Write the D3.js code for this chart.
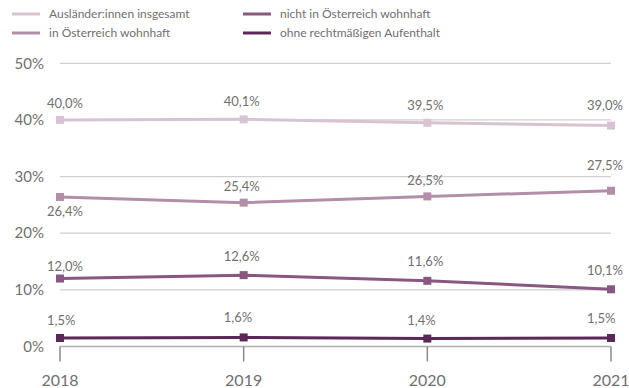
<!DOCTYPE html>
<html><head><meta charset="utf-8">
<script src="https://cdn.jsdelivr.net/npm/d3@7"></script>
<style>
html,body{margin:0;padding:0;background:#fff;}
text{font-family:Lato,"Open Sans",sans-serif;}
</style></head>
<body>
<svg id="c" width="629" height="388"></svg>
<script>
const years = ["2018","2019","2020","2021"];
const seriesNames = ["Ausländer:innen insgesamt","in Österreich wohnhaft","nicht in Österreich wohnhaft","ohne rechtmäßigen Aufenthalt"];
const insgesamt = [40.0, 40.1, 39.5, 39.0];
const wohnhaft = [26.4, 25.4, 26.5, 27.5];
const nichtWohnhaft = [12.0, 12.6, 11.6, 10.1];
const ohneAufenthalt = [1.5, 1.6, 1.4, 1.5];
const yTicks = [0, 10, 20, 30, 40, 50];

const colors = ["#d8c3d3", "#b28ea9", "#8a5783", "#5a2757"];
const allSeries = [insgesamt, wohnhaft, nichtWohnhaft, ohneAufenthalt];
// label placement (layout only)
const labelDx = [-13, -20, -20, -24];
const labelDy = [[-12,-13,-13,-16],[19,-12,-11,-21],[-8,-14,-15,-14],[-13,-15,-14,-15]];

const svg = d3.select("#c");
const x = d3.scalePoint().domain(years).range([60, 611]);
const y = d3.scaleLinear().domain([0, 50]).range([346.5, 63.3]);

// gridlines
svg.append("g").selectAll("line").data(yTicks).join("line")
  .attr("x1", 60).attr("x2", 611)
  .attr("y1", d => y(d)).attr("y2", d => y(d))
  .attr("stroke", d => d === 0 ? "#b0b0b0" : "#cfcfcf").attr("stroke-width", 1.3);

// y labels
svg.append("g").selectAll("text").data(yTicks).join("text")
  .attr("x", 44).attr("y", d => y(d)).attr("dy", "0.35em")
  .attr("text-anchor", "end").attr("font-size", 15).attr("fill", "#707070")
  .text(d => d + "%");

// x axis ticks
const xg = svg.append("g");
xg.selectAll("line").data(years).join("line")
  .attr("x1", d => x(d)).attr("x2", d => x(d))
  .attr("y1", y(0)).attr("y2", y(0) + 15)
  .attr("stroke", "#8a8a8a").attr("stroke-width", 1.5);
xg.selectAll("text").data(years).join("text")
  .attr("x", d => x(d)).attr("y", 386)
  .attr("text-anchor", "middle").attr("font-size", 16).attr("fill", "#707070")
  .text(d => d);

const line = d3.line().x((d, i) => x(years[i])).y(d => y(d));
allSeries.forEach((s, k) => {
  const g = svg.append("g");
  g.append("path").datum(s).attr("d", line)
    .attr("fill", "none").attr("stroke", colors[k]).attr("stroke-width", 3);
  g.selectAll("rect").data(s).join("rect")
    .attr("x", (d, i) => x(years[i]) - 4).attr("y", d => y(d) - 4)
    .attr("width", 8).attr("height", 8).attr("fill", colors[k]);
  g.selectAll("text").data(s).join("text")
    .attr("x", (d, i) => x(years[i]) + labelDx[i])
    .attr("y", (d, i) => y(d) + labelDy[k][i])
    .attr("font-size", 13).attr("fill", "#707070")
    .text(d => d.toFixed(1).replace(".", ",") + "%");
});

// legend
const legPos = [[12, 14], [12, 33], [243, 14], [243, 33]];
seriesNames.forEach((n, k) => {
  const [lx, ly] = legPos[k];
  svg.append("line").attr("x1", lx).attr("x2", lx + 28).attr("y1", ly).attr("y2", ly)
    .attr("stroke", colors[k]).attr("stroke-width", 3);
  svg.append("text").attr("x", lx + 37).attr("y", ly).attr("dy", "0.35em")
    .attr("font-size", 12).attr("fill", "#707070").text(n);
});
</script>
</body></html>
